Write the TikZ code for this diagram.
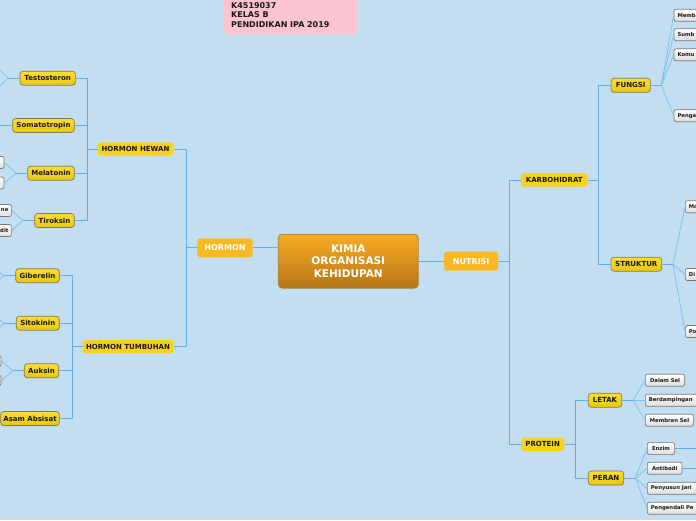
\documentclass[tikz,border=0pt]{standalone}
\usepackage{fontspec}
\setmainfont{DejaVu Sans}
\definecolor{bgblue}{RGB}{196,222,241}
\definecolor{connc}{RGB}{95,175,232}
\definecolor{fanc}{RGB}{125,195,240}
\definecolor{rootT}{RGB}{248,172,35}
\definecolor{rootB}{RGB}{182,118,22}
\definecolor{rootD}{RGB}{175,130,65}
\definecolor{mainO}{RGB}{250,185,35}
\definecolor{subY}{RGB}{250,210,30}
\definecolor{topT}{RGB}{250,222,50}
\definecolor{topB}{RGB}{234,198,18}
\definecolor{topD}{RGB}{125,120,95}
\definecolor{leafB}{RGB}{222,222,222}
\definecolor{leafD}{RGB}{120,120,120}
\definecolor{pinkc}{RGB}{251,196,210}
\begin{document}
\begin{tikzpicture}[x=1pt,y=-1pt,
  conn/.style={draw=connc,line width=1pt},
  fan/.style={draw=fanc,line width=0.8pt},
  base/.style={inner sep=0pt,font=\bfseries\fontsize{7}{8}\selectfont,text=black!90},
  rootbox/.style={base,rounded corners=4pt,top color=rootT,bottom color=rootB,draw=rootD,line width=0.8pt,text=white,font=\bfseries\fontsize{10.5}{12.5}\selectfont,align=center,minimum width=140pt,minimum height=54pt},
  mainbox/.style={base,rounded corners=3pt,fill=mainO,text=white,font=\bfseries\fontsize{8}{9}\selectfont,minimum height=19pt},
  subbox/.style={base,rounded corners=3pt,fill=subY,minimum height=13.3pt},
  topicbox/.style={base,rounded corners=3pt,top color=topT,bottom color=topB,draw=topD,line width=0.7pt,minimum height=14pt},
  leafbox/.style={base,rounded corners=2pt,top color=white,bottom color=leafB,draw=leafD,line width=0.7pt,minimum height=12pt,font=\bfseries\fontsize{5.3}{6}\selectfont},
  leafr/.style={leafbox,anchor=west,text width=50pt,align=left,inner xsep=3.5pt},
  leafl/.style={leafbox,anchor=east,text width=24pt,align=right,inner xsep=3pt},
  pinkbox/.style={base,rounded corners=4pt,fill=pinkc,font=\bfseries\fontsize{8}{9.7}\selectfont,text width=119pt,align=left,inner xsep=7pt,inner ysep=6.8pt}
]
\fill[bgblue] (0,0) rectangle (696,520);
\useasboundingbox (0,0) rectangle (696,520);

% header note
\node[pinkbox,anchor=south west] (note) at (224,34.7) {K4519037\\KELAS B\\PENDIDIKAN IPA 2019};

% root and main branches
\node[rootbox] (root) at (348.3,261.2) {KIMIA\\ORGANISASI\\KEHIDUPAN};
\node[mainbox,minimum width=55.4pt] (hormon) at (225,247.8) {HORMON};
\node[mainbox,minimum width=54.3pt] (nutrisi) at (471.2,261.2) {NUTRISI};

% second level
\node[subbox,minimum width=75.6pt] (hh) at (135.5,149) {HORMON HEWAN};
\node[subbox,minimum width=90.6pt] (ht) at (128,346.7) {HORMON TUMBUHAN};
\node[subbox,minimum width=66.7pt] (karbo) at (554.3,180) {KARBOHIDRAT};
\node[subbox,minimum width=43.3pt] (protein) at (542.7,444.3) {PROTEIN};

% third level
\node[topicbox,minimum width=39.3pt] (fungsi) at (630.7,85.3) {FUNGSI};
\node[topicbox,minimum width=50.7pt] (struktur) at (636.3,264.2) {STRUKTUR};
\node[topicbox,minimum width=33.4pt] (letak) at (605,400.2) {LETAK};
\node[topicbox,minimum width=35.4pt] (peran) at (606,478) {PERAN};

\node[topicbox,minimum width=55.3pt] (testo) at (47.7,78.2) {Testosteron};
\node[topicbox,minimum width=61.6pt] (somato) at (43.5,125.5) {Somatotropin};
\node[topicbox,minimum width=46.6pt] (mela) at (51,173.2) {Melatonin};
\node[topicbox,minimum width=39.6pt] (tiro) at (54.5,220.5) {Tiroksin};
\node[topicbox,minimum width=43.6pt] (gib) at (37.5,275.7) {Giberelin};
\node[topicbox,minimum width=43pt] (sito) at (37.8,323.2) {Sitokinin};
\node[topicbox,minimum width=34.4pt] (auksin) at (41.5,370.8) {Auksin};
\node[topicbox,minimum width=58.6pt] (asam) at (30,418.5) {Asam Absisat};

% right leaves
\node[leafr] (memb) at (673.7,15.2) {Memb};
\node[leafr] (sumb) at (673.7,34.7) {Sumb};
\node[leafr] (komu) at (673.7,54.8) {Komu};
\node[leafr] (penga) at (673.7,115.8) {Penga};
\node[leafr] (mono) at (685,206.7) {Mo};
\node[leafr] (disa) at (685,274.5) {Di};
\node[leafr] (poli) at (685,331.5) {Po};
\node[leafbox,anchor=west,minimum width=39.3pt] (dalam) at (645,380.2) {Dalam Sel};
\node[leafr] (berd) at (645,400.2) {Berdampingan};
\node[leafbox,anchor=west,minimum width=48.3pt] (membran) at (645,420.2) {Membran Sel};
\node[leafbox,anchor=west,minimum width=27.3pt] (enzim) at (647,448.6) {Enzim};
\node[leafbox,anchor=west,minimum width=34.7pt] (antibodi) at (647,468.3) {Antibodi};
\node[leafr] (penyusun) at (647,488.3) {Penyusun Jari};
\node[leafr] (pengendali) at (647,508.3) {Pengendali Pe};

% left leaves
\node[leafl] (melaA) at (4.3,162.5) {};
\node[leafl] (melaB) at (4.3,183) {};
\node[leafl] (tiroA) at (11.7,210.5) {ne};
\node[leafl] (tiroB) at (11.7,230.5) {dit};
\node[leafl,minimum height=10.7pt] (auksA) at (1.3,361) {};
\node[leafl,minimum height=10.7pt] (auksB) at (1.3,380.5) {};

% off-page ends
\coordinate (testoA) at (-6,64);
\coordinate (testoB) at (-6,92);
\coordinate (somatoA) at (-6,125.5);
\coordinate (gibA) at (-3,270);
\coordinate (gibB) at (-3,282);
\coordinate (sitoA) at (-3,317.5);
\coordinate (sitoB) at (-3,329.5);
\coordinate (enzimR) at (700,448.6);
\coordinate (antiR) at (700,468.3);

% trunk connectors
\draw[conn] (hormon.east) -- (hormon.east -| root.west);
\draw[conn] (root.east) -- (nutrisi.west);
\draw[conn] (hormon.west) -- ++(-10.6,0) |- (hh.east);
\draw[conn] (hormon.west) -- ++(-10.6,0) |- (ht.east);
\draw[conn] (nutrisi.east) -- ++(11,0) |- (karbo.west);
\draw[conn] (nutrisi.east) -- ++(11,0) |- (protein.west);
\draw[conn] (karbo.east) -- ++(10.6,0) |- (fungsi.west);
\draw[conn] (karbo.east) -- ++(10.6,0) |- (struktur.west);
\draw[conn] (protein.east) -- ++(11.15,0) |- (letak.west);
\draw[conn] (protein.east) -- ++(11.15,0) |- (peran.west);
\foreach \c in {testo,somato,mela,tiro}
  \draw[conn] (hh.west) -- ++(-10.4,0) |- (\c.east);
\foreach \c in {gib,sito,auksin,asam}
  \draw[conn] (ht.west) -- ++(-10.4,0) |- (\c.east);

% fans
\draw[conn] (fungsi.east) -- ++(10.7,0) coordinate (jf);
\foreach \c in {memb,sumb,komu,penga} \draw[fan] (jf) -- (\c.west);
\draw[conn] (struktur.east) -- ++(11,0) coordinate (js);
\foreach \c in {mono,disa,poli} \draw[fan] (js) -- (\c.west);
\draw[conn] (letak.east) -- ++(11,0) coordinate (jl);
\foreach \c in {dalam,berd,membran} \draw[fan] (jl) -- (\c.west);
\draw[conn] (peran.east) -- ++(11.3,0) coordinate (jp);
\foreach \c in {enzim,antibodi,penyusun,pengendali} \draw[fan] (jp) -- (\c.west);
\draw[conn] (enzim.east) -- (enzimR);
\draw[conn] (antibodi.east) -- (antiR);

\draw[conn] (testo.west) -- ++(-11.7,0) coordinate (jt);
\draw[fan] (jt) -- (testoA);
\draw[fan] (jt) -- (testoB);
\draw[conn] (somato.west) -- (somatoA);
\draw[conn] (mela.west) -- ++(-11,0) coordinate (jm);
\draw[fan] (jm) -- (melaA.east);
\draw[fan] (jm) -- (melaB.east);
\draw[conn] (tiro.west) -- ++(-11.4,0) coordinate (jti);
\draw[fan] (jti) -- (tiroA.east);
\draw[fan] (jti) -- (tiroB.east);
\draw[conn] (gib.west) -- ++(-11.7,0) coordinate (jg);
\draw[fan] (jg) -- (gibA);
\draw[fan] (jg) -- (gibB);
\draw[conn] (sito.west) -- ++(-11.7,0) coordinate (jsi);
\draw[fan] (jsi) -- (sitoA);
\draw[fan] (jsi) -- (sitoB);
\draw[conn] (auksin.west) -- ++(-11,0) coordinate (ja);
\draw[fan] (ja) -- (auksA.east);
\draw[fan] (ja) -- (auksB.east);
\end{tikzpicture}
\end{document}
